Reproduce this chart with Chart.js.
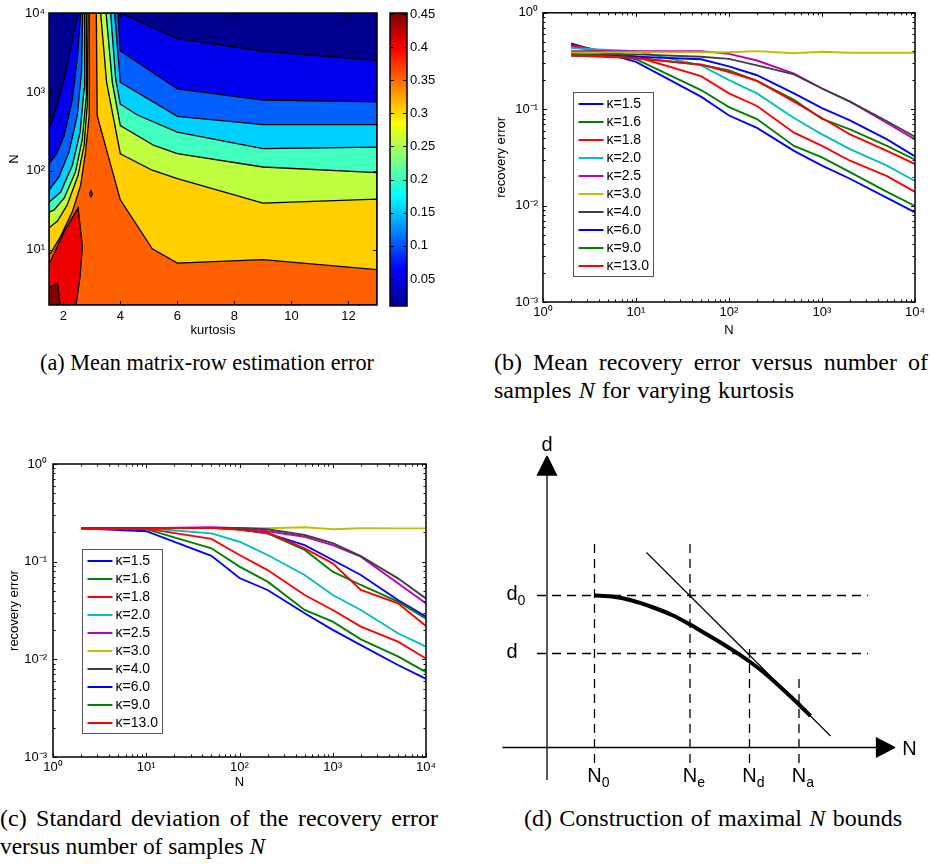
<!DOCTYPE html>
<html>
<head>
<meta charset="utf-8">
<title>Kurtosis and recovery error</title>
<script src="https://cdn.jsdelivr.net/npm/chart.js@4.4.1/dist/chart.umd.min.js"></script>
<style>
  html, body { margin: 0; padding: 0; background: #fff; }
  #page { position: relative; width: 930px; height: 864px; overflow: hidden; }
  canvas { position: absolute; }
  .cap { position: absolute; font-family: "Liberation Serif", "Times New Roman", serif; font-size: 24px; line-height: 28px; color: #000; white-space: nowrap; transform-origin: left top; }
</style>
</head>
<body>
<div id="page">
  <canvas id="chartA" width="384" height="340" style="left:0;top:0"></canvas>
  <canvas id="chartBar" width="76" height="340" style="left:384px;top:0"></canvas>
  <canvas id="chartB" width="460" height="340" style="left:470px;top:0"></canvas>
  <canvas id="chartC" width="460" height="350" style="left:0;top:440px"></canvas>
  <canvas id="chartD" width="440" height="360" style="left:487px;top:430px"></canvas>

  <div class="cap" data-w="334" style="left:40px;top:348px">(a) Mean matrix-row estimation error</div>
  <div class="cap" data-w="434" style="left:494px;top:348px">(b) Mean recovery error versus number of</div>
  <div class="cap" data-w="300" style="left:494px;top:376px">samples <i>N</i> for varying kurtosis</div>
  <div class="cap" data-w="438" style="left:0;top:804px">(c) Standard deviation of the recovery error</div>
  <div class="cap" data-w="265" style="left:0;top:832px">versus number of samples <i>N</i></div>
  <div class="cap" data-w="378" style="left:524px;top:804px">(d) Construction of maximal <i>N</i> bounds</div>
</div>

<script>
// ---- defaults ----
Chart.defaults.font.family = '"Liberation Sans", Arial, Helvetica, sans-serif';
Chart.defaults.font.size = 13;
Chart.defaults.color = '#000';
Chart.defaults.animation = false;
Chart.defaults.responsive = false;
Chart.defaults.events = [];
Chart.defaults.plugins.legend.display = false;
Chart.defaults.plugins.tooltip.enabled = false;

// ==========================================
// DATA
// ==========================================

// (a) contour plot: kurtosis x N, contour lines as [kurtosis, N]
const kurtTicks = [2, 4, 6, 8, 10, 12];
const nDecadesA = [10, 100, 1000, 10000];
const kurtRange = [1.5, 13];
const nRangeA = [2, 10000];
const contourLevels = [0.054, 0.098, 0.142, 0.186, 0.23, 0.274, 0.318, 0.362, 0.406];

// left branch of each level (top edge -> left edge)
const levelLeft1 = [[2.52,10000],[2.32,4600],[2.03,1450],[1.73,580],[1.56,390],[1.5,357]];
const levelLeft2 = [[2.61,10000],[2.50,2850],[2.32,810],[2.03,280],[1.77,165],[1.5,124]];
const levelLeft3 = [[2.68,10000],[2.64,1760],[2.49,500],[2.2,173],[1.85,84],[1.5,57]];
const levelLeft4 = [[2.75,10000],[2.73,1090],[2.59,310],[2.32,118],[1.91,54],[1.5,40]];
const levelLeft5 = [[2.81,10000],[2.80,810],[2.67,255],[2.43,97],[2.03,45],[1.68,32],[1.5,30]];
const levelLeft6 = [[2.87,10000],[2.84,670],[2.73,210],[2.52,88],[2.14,37],[1.79,23],[1.5,19]];
const levelLeft7 = [[2.91,10000],[2.91,500],[2.78,173],[2.61,66],[2.32,30.5],[1.91,14.8],[1.56,9.1],[1.5,8.9]];
// right branch of each level (top edge -> right edge)
const levelRight1 = [[4.01,10000],[6,4750],[9,3300],[13,2500]];
const levelRight2 = [[3.92,10000],[4,3300],[6,1090],[9,790],[13,750]];
const levelRight3 = [[3.8,10000],[4,1320],[6,490],[9,386],[13,386]];
const levelRight4 = [[3.66,10000],[3.84,1450],[4,700],[4.6,510],[6,310],[9,191],[13,200]];
const levelRight5 = [[3.5,10000],[3.72,1320],[4,375],[5.18,210],[6,165],[9,112],[13,95]];
const levelRight6 = [[3.31,10000],[3.52,1320],[4,165],[5.12,102],[6,80],[9,39],[13,44]];
const levelRight7 = [[3.16,10000],[3.19,500],[3.54,173],[4,43],[5.12,10.3],[6,6.8],[9,7.5],[13,5.6]];
// closed zones
const redZone = [[1.5,6.5],[2.03,17],[2.52,34],[2.67,11],[2.59,4.6],[2.45,2],[1.5,2]];
const darkRedZone = [[1.5,3.3],[1.8,3.8],[1.89,2],[1.5,2]];
const smallLoop = [[2.92,51],[2.97,56],[3.02,51],[2.97,46.6]];

// colour bar
const cbarRange = [0.0092, 0.4515];
const cbarTicks = [0.05, 0.1, 0.15, 0.2, 0.25, 0.3, 0.35, 0.4, 0.45];

// (b), (c) recovery error
const sampleN = [2, 10, 50, 100, 200, 500, 1000, 2000, 5000, 10000];
const nDecades = [1, 10, 100, 1000, 10000];
const errDecades = [0.001, 0.01, 0.1, 1];
const kappaLabels = ['κ=1.5','κ=1.6','κ=1.8','κ=2.0','κ=2.5','κ=3.0','κ=4.0','κ=6.0','κ=9.0','κ=13.0'];

const meanK1_5 = [0.48, 0.31, 0.135, 0.086, 0.064, 0.037, 0.026, 0.019, 0.012, 0.0085];
const meanK1_6 = [0.45, 0.33, 0.158, 0.105, 0.079, 0.0416, 0.0316, 0.0222, 0.0139, 0.0099];
const meanK1_8 = [0.46, 0.35, 0.22, 0.146, 0.108, 0.057, 0.0416, 0.0292, 0.0202, 0.0139];
const meanK2_0 = [0.43, 0.40, 0.285, 0.20, 0.146, 0.081, 0.0548, 0.0385, 0.026, 0.018];
const meanK2_5 = [0.40, 0.40, 0.40, 0.375, 0.32, 0.234, 0.164, 0.12, 0.072, 0.0487];
const meanK3_0 = [0.385, 0.39, 0.39, 0.39, 0.40, 0.38, 0.395, 0.385, 0.385, 0.385];
const meanK4_0 = [0.37, 0.37, 0.35, 0.333, 0.285, 0.23, 0.164, 0.12, 0.075, 0.0518];
const meanK6_0 = [0.36, 0.35, 0.33, 0.278, 0.225, 0.146, 0.1026, 0.0767, 0.0487, 0.0324];
const meanK9_0 = [0.37, 0.34, 0.289, 0.253, 0.197, 0.125, 0.0792, 0.0616, 0.0416, 0.0299];
const meanK13_0 = [0.36, 0.34, 0.29, 0.243, 0.197, 0.12, 0.081, 0.0548, 0.037, 0.027];

const sdK1_5 = [0.22, 0.205, 0.115, 0.068, 0.0513, 0.0296, 0.020, 0.014, 0.00875, 0.0063];
const sdK1_6 = [0.22, 0.215, 0.137, 0.089, 0.0624, 0.032, 0.0243, 0.016, 0.0107, 0.0074];
const sdK1_8 = [0.22, 0.218, 0.171, 0.117, 0.082, 0.0456, 0.032, 0.0216, 0.0152, 0.0102];
const sdK2_0 = [0.22, 0.22, 0.195, 0.16, 0.117, 0.073, 0.0456, 0.032, 0.0185, 0.0135];
const sdK2_5 = [0.22, 0.22, 0.225, 0.22, 0.205, 0.18, 0.148, 0.1125, 0.06, 0.0374];
const sdK3_0 = [0.219, 0.22, 0.222, 0.222, 0.22, 0.225, 0.215, 0.22, 0.219, 0.219];
const sdK4_0 = [0.22, 0.22, 0.222, 0.222, 0.215, 0.1875, 0.155, 0.114, 0.0675, 0.0421];
const sdK6_0 = [0.22, 0.22, 0.222, 0.214, 0.195, 0.148, 0.104, 0.073, 0.0405, 0.0274];
const sdK9_0 = [0.22, 0.22, 0.222, 0.214, 0.195, 0.132, 0.079, 0.0577, 0.039, 0.026];
const sdK13_0 = [0.22, 0.22, 0.222, 0.212, 0.198, 0.137, 0.096, 0.0513, 0.0374, 0.0219];

const meanSeries = [meanK1_5, meanK1_6, meanK1_8, meanK2_0, meanK2_5, meanK3_0, meanK4_0, meanK6_0, meanK9_0, meanK13_0];
const sdSeries = [sdK1_5, sdK1_6, sdK1_8, sdK2_0, sdK2_5, sdK3_0, sdK4_0, sdK6_0, sdK9_0, sdK13_0];

// (d) schematic, arbitrary units (origin = axes crossing)
const curveN = [0.95, 1.3, 1.7, 2.1, 2.5, 2.86, 3.2, 3.55, 3.8, 4.05, 4.35, 4.6, 4.85, 5.04, 5.27];
const curveD = [3.04, 3.02, 2.94, 2.81, 2.65, 2.46, 2.26, 2.05, 1.89, 1.72, 1.49, 1.27, 1.04, 0.86, 0.63];
const tangentN = [1.99, 5.67];
const tangentD = [3.90, 0.23];
const boundN = [0.95, 2.86, 4.05, 5.04];
const boundTop = [4.19, 4.12, 2.05, 1.45];
const boundSub = ['0', 'e', 'd', 'a'];
const levelD = [3.04, 1.88];
const levelSub = ['0', ''];

// ---- styles ----
const lineColors = ['#0000ff','#008000','#ff0000','#00bfbf','#bf00bf','#bfbf00','#404040','#0000ff','#008000','#ff0000'];
const bandColors = ['#00008f','#0000ef','#0060ff','#00d0ff','#40ffbf','#bfff40','#ffcf00','#ff6000','#ef0000','#800000'];
const jetStops = [[0,'#00008f'],[0.125,'#0000ff'],[0.375,'#00ffff'],[0.625,'#ffff00'],[0.875,'#ff0000'],[1,'#800000']];

// ==========================================
// CAPTIONS: fit each line to the width it has in the figure
// ==========================================
document.querySelectorAll('.cap').forEach(el => {
  const target = +el.dataset.w;
  const natural = el.getBoundingClientRect().width;
  if (natural > target) {
    el.style.transform = `scaleX(${target / natural})`;
  } else {
    const gaps = (el.textContent.match(/ /g) || []).length;
    if (gaps) el.style.wordSpacing = ((target - natural) / gaps) + 'px';
  }
});

// ==========================================
// HELPERS / PLUGINS
// ==========================================
const SUP = { '-': '\u207B', '0': '\u2070', '1': '\u00B9', '2': '\u00B2', '3': '\u00B3', '4': '\u2074' };
function pow10Label(v) {
  const e = Math.round(Math.log10(v));
  return '10' + String(e).split('').map(c => SUP[c]).join('');
}
function fixTicks(list) {
  return scale => { scale.ticks = list.map(v => ({ value: v })); };
}
const pts = arr => arr.map(([x, y]) => ({ x, y }));
const closed = arr => pts([...arr, arr[0]]);

// superlevel region = left branch (reversed) + top edge + right branch + bottom corners
function region(left, right) {
  const p = [...left].reverse().concat(right, [[kurtRange[1], nRangeA[0]], [kurtRange[0], nRangeA[0]]]);
  return closed(p);
}

function tickList(scale, minor) {
  const out = scale.ticks.map(t => [t.value, 4]);
  if (minor && scale.type === 'logarithmic') {
    scale.ticks.forEach(t => {
      for (let m = 2; m < 10; m++) {
        const v = t.value * m;
        if (v < scale.max) out.push([v, 2.5]);
      }
    });
  }
  return out;
}

// box + inward ticks, matlab style
const matlabFrame = {
  id: 'matlabFrame',
  afterDatasetsDraw(chart, args, o) {
    if (!o || !o.on) return;
    const { ctx, chartArea: a } = chart;
    ctx.save();
    ctx.strokeStyle = '#000';
    ctx.lineWidth = 1;
    ctx.beginPath();
    if (o.xTicks !== false) {
      const sx = chart.scales.x;
      for (const [v, len] of tickList(sx, o.minor)) {
        const p = Math.round(sx.getPixelForValue(v)) + 0.5;
        ctx.moveTo(p, a.bottom); ctx.lineTo(p, a.bottom - len);
        ctx.moveTo(p, a.top); ctx.lineTo(p, a.top + len);
      }
    }
    const sy = chart.scales.y;
    for (const [v, len] of tickList(sy, o.minor)) {
      const p = Math.round(sy.getPixelForValue(v)) + 0.5;
      ctx.moveTo(a.left, p); ctx.lineTo(a.left + len, p);
      ctx.moveTo(a.right, p); ctx.lineTo(a.right - len, p);
    }
    ctx.stroke();
    ctx.lineWidth = 1.5;
    ctx.strokeRect(a.left, a.top, a.right - a.left, a.bottom - a.top);
    ctx.restore();
  }
};

const boxLegend = {
  id: 'boxLegend',
  afterDraw(chart, args, o) {
    if (!o || !o.display) return;
    const { ctx, chartArea: a } = chart;
    const x0 = Math.round(a.left + o.dx) + 0.5, y0 = Math.round(a.top + o.dy) + 0.5;
    ctx.save();
    ctx.fillStyle = '#fff';
    ctx.fillRect(x0, y0, o.w, o.h);
    ctx.strokeStyle = '#555';
    ctx.lineWidth = 1;
    ctx.strokeRect(x0, y0, o.w, o.h);
    ctx.font = '14px "Liberation Sans", Arial, sans-serif';
    ctx.textBaseline = 'middle';
    chart.data.datasets.forEach((ds, i) => {
      const y = y0 + o.first + i * o.step;
      ctx.strokeStyle = ds.borderColor;
      ctx.lineWidth = 2;
      ctx.beginPath(); ctx.moveTo(x0 + 5, y); ctx.lineTo(x0 + 30, y); ctx.stroke();
      ctx.fillStyle = '#000';
      ctx.fillText(ds.label, x0 + 33, y + 0.5);
    });
    ctx.restore();
  }
};

// text labels with subscripts for the schematic
const schemLabels = {
  id: 'schemLabels',
  afterDatasetsDraw(chart, args, o) {
    if (!o || !o.items) return;
    const { ctx, scales: { x, y } } = chart;
    ctx.save();
    ctx.fillStyle = '#000';
    ctx.textBaseline = 'middle';
    ctx.textAlign = 'left';
    for (const it of o.items) {
      const px = x.getPixelForValue(it.x), py = y.getPixelForValue(it.y);
      ctx.font = '20px "Liberation Sans", Arial, sans-serif';
      const w = ctx.measureText(it.text).width;
      const left = it.align === 'left' ? px : px - w / 2;
      ctx.fillText(it.text, left, py);
      if (it.sub) {
        ctx.font = '14px "Liberation Sans", Arial, sans-serif';
        ctx.fillText(it.sub, left + w, py + 7);
      }
    }
    ctx.restore();
  }
};

function jetFill(c) {
  const a = c.chart.chartArea;
  if (!a) return bandColors[0];
  const g = c.chart.ctx.createLinearGradient(0, a.bottom, 0, a.top);
  jetStops.forEach(([p, col]) => g.addColorStop(p, col));
  return g;
}

const noGrid = { display: false, drawTicks: false };

// ==========================================
// (a) CONTOUR
// ==========================================
const leftBranches = [levelLeft1, levelLeft2, levelLeft3, levelLeft4, levelLeft5, levelLeft6, levelLeft7];
const rightBranches = [levelRight1, levelRight2, levelRight3, levelRight4, levelRight5, levelRight6, levelRight7];

const layers = [
  { data: closed([[kurtRange[0], nRangeA[0]], [kurtRange[0], nRangeA[1]], [kurtRange[1], nRangeA[1]], [kurtRange[1], nRangeA[0]]]), color: bandColors[0], bw: 0 }
];
leftBranches.forEach((l, i) => layers.push({ data: region(l, rightBranches[i]), color: bandColors[i + 1], bw: 1.3 }));
layers.push({ data: closed(redZone), color: bandColors[8], bw: 1.3 });
layers.push({ data: closed(darkRedZone), color: bandColors[9], bw: 1.3 });
layers.push({ data: closed(smallLoop), color: bandColors[7], bw: 1.3 });

new Chart(document.getElementById('chartA'), {
  type: 'line',
  data: {
    datasets: layers.map((l, i) => ({
      data: l.data,
      fill: 'shape',
      backgroundColor: l.color,
      borderColor: '#000',
      borderWidth: l.bw,
      pointRadius: 0,
      tension: 0,
      order: 100 - i
    }))
  },
  options: {
    layout: { padding: { top: 13, right: 7, left: 0, bottom: 0 } },
    plugins: { matlabFrame: { on: true, minor: false } },
    scales: {
      x: {
        type: 'linear', min: kurtRange[0], max: kurtRange[1], bounds: 'data',
        afterBuildTicks: fixTicks(kurtTicks),
        afterFit: s => { s.height = 35; },
        grid: noGrid, border: { display: false },
        ticks: { padding: 4, autoSkip: false, maxRotation: 0 },
        title: { display: true, text: 'kurtosis', padding: { top: 0, bottom: 2 } }
      },
      y: {
        type: 'logarithmic', min: nRangeA[0], max: nRangeA[1], bounds: 'data',
        afterBuildTicks: fixTicks(nDecadesA),
        afterFit: s => { s.width = 49; },
        grid: noGrid, border: { display: false },
        ticks: { padding: 4, autoSkip: false, callback: pow10Label },
        title: { display: true, text: 'N', padding: { top: 7, bottom: 0 } }
      }
    }
  },
  plugins: [matlabFrame]
});

// colour bar
new Chart(document.getElementById('chartBar'), {
  type: 'bar',
  data: {
    labels: [''],
    datasets: [{ data: [cbarRange], backgroundColor: jetFill, borderWidth: 0, barPercentage: 1, categoryPercentage: 1 }]
  },
  options: {
    layout: { padding: { top: 13, bottom: 34, left: 6, right: 0 } },
    plugins: { matlabFrame: { on: true, xTicks: false } },
    scales: {
      x: { display: false },
      y: {
        position: 'right', min: cbarRange[0], max: cbarRange[1], bounds: 'data',
        afterBuildTicks: fixTicks(cbarTicks),
        afterFit: s => { s.width = 53; },
        grid: noGrid, border: { display: false },
        ticks: { padding: 3, autoSkip: false, callback: v => String(+v.toFixed(2)) }
      }
    }
  },
  plugins: [matlabFrame]
});

// ==========================================
// (b), (c) RECOVERY ERROR
// ==========================================
function makeRecovery(canvasId, series, lay) {
  return new Chart(document.getElementById(canvasId), {
    type: 'line',
    data: {
      datasets: series.map((vals, i) => ({
        label: kappaLabels[i],
        data: sampleN.map((n, j) => ({ x: n, y: vals[j] })),
        borderColor: lineColors[i],
        borderWidth: 1.9,
        pointRadius: 0,
        fill: false,
        tension: 0,
        order: -i
      }))
    },
    options: {
      layout: { padding: { top: lay.top, right: lay.right, left: 0, bottom: 0 } },
      plugins: {
        matlabFrame: { on: true, minor: true },
        boxLegend: { display: true, dx: lay.legDx, dy: lay.legDy, w: 80, h: 184, first: 11.5, step: 18 }
      },
      scales: {
        x: {
          type: 'logarithmic', min: nDecades[0], max: nDecades[nDecades.length - 1], bounds: 'data',
          afterBuildTicks: fixTicks(nDecades),
          afterFit: s => { s.height = lay.xh; },
          grid: noGrid, border: { display: false },
          ticks: { padding: lay.xtp, autoSkip: false, maxRotation: 0, callback: pow10Label },
          title: { display: true, text: 'N', padding: { top: 0, bottom: lay.xtt } }
        },
        y: {
          type: 'logarithmic', min: errDecades[0], max: errDecades[errDecades.length - 1], bounds: 'data',
          afterBuildTicks: fixTicks(errDecades),
          afterFit: s => { s.width = lay.yw; },
          grid: noGrid, border: { display: false },
          ticks: { padding: lay.ytp, autoSkip: false, callback: pow10Label },
          title: { display: true, text: 'recovery error', padding: { top: lay.ytt, bottom: 0 } }
        }
      }
    },
    plugins: [matlabFrame, boxLegend]
  });
}

makeRecovery('chartB', meanSeries, { top: 8, right: 15, yw: 73, xh: 38, legDx: 29.7, legDy: 79.3, xtp: 3, ytp: 5, ytt: 24, xtt: 2 });
makeRecovery('chartC', sdSeries, { top: 24, right: 34, yw: 53, xh: 33, legDx: 29.4, legDy: 85.3, xtp: 3, ytp: 6, ytt: 7, xtt: 0 });

// ==========================================
// (d) SCHEMATIC
// ==========================================
const black = (data, extra) => Object.assign({
  data, borderColor: '#000', borderWidth: 1.3, pointRadius: 0, fill: false, tension: 0
}, extra);
const dash = { borderDash: [9, 6], borderWidth: 1.3 };

const schemSets = [
  black(pts([[0, -0.65], [0, 5.45]])),                       // d axis
  black(pts([[-0.89, 0], [6.6, 0]])),                        // N axis
  black(closed([[0, 5.83], [-0.19, 5.45], [0.19, 5.45]]), { fill: 'shape', backgroundColor: '#000' }),
  black(closed([[6.96, 0], [6.59, 0.19], [6.59, -0.19]]), { fill: 'shape', backgroundColor: '#000' })
];
levelD.forEach(d => schemSets.push(black(pts([[-0.2, d], [6.42, d]]), dash)));
boundN.forEach((n, i) => schemSets.push(black(pts([[n, -0.31], [n, boundTop[i]]]), dash)));
schemSets.push(black(tangentN.map((n, i) => ({ x: n, y: tangentD[i] })), { borderWidth: 1.2 }));
schemSets.push(black(curveN.map((n, i) => ({ x: n, y: curveD[i] })), { borderWidth: 4, cubicInterpolationMode: 'monotone' }));

const schemItems = [
  { text: 'd', x: 0, y: 6.04 },
  { text: 'N', x: 7.25, y: -0.03 }
];
levelD.forEach((d, i) => schemItems.push({ text: 'd', sub: levelSub[i], x: -0.81, y: d + 0.03, align: 'left' }));
boundN.forEach((n, i) => schemItems.push({ text: 'N', sub: boundSub[i], x: n, y: -0.57 }));

new Chart(document.getElementById('chartD'), {
  type: 'line',
  data: { datasets: schemSets },
  options: {
    layout: { padding: 0 },
    plugins: { schemLabels: { items: schemItems } },
    scales: {
      x: { type: 'linear', display: false, min: -1.2, max: 7.6 },
      y: { type: 'linear', display: false, min: -0.85, max: 6.35 }
    }
  },
  plugins: [schemLabels]
});
</script>
</body>
</html>
